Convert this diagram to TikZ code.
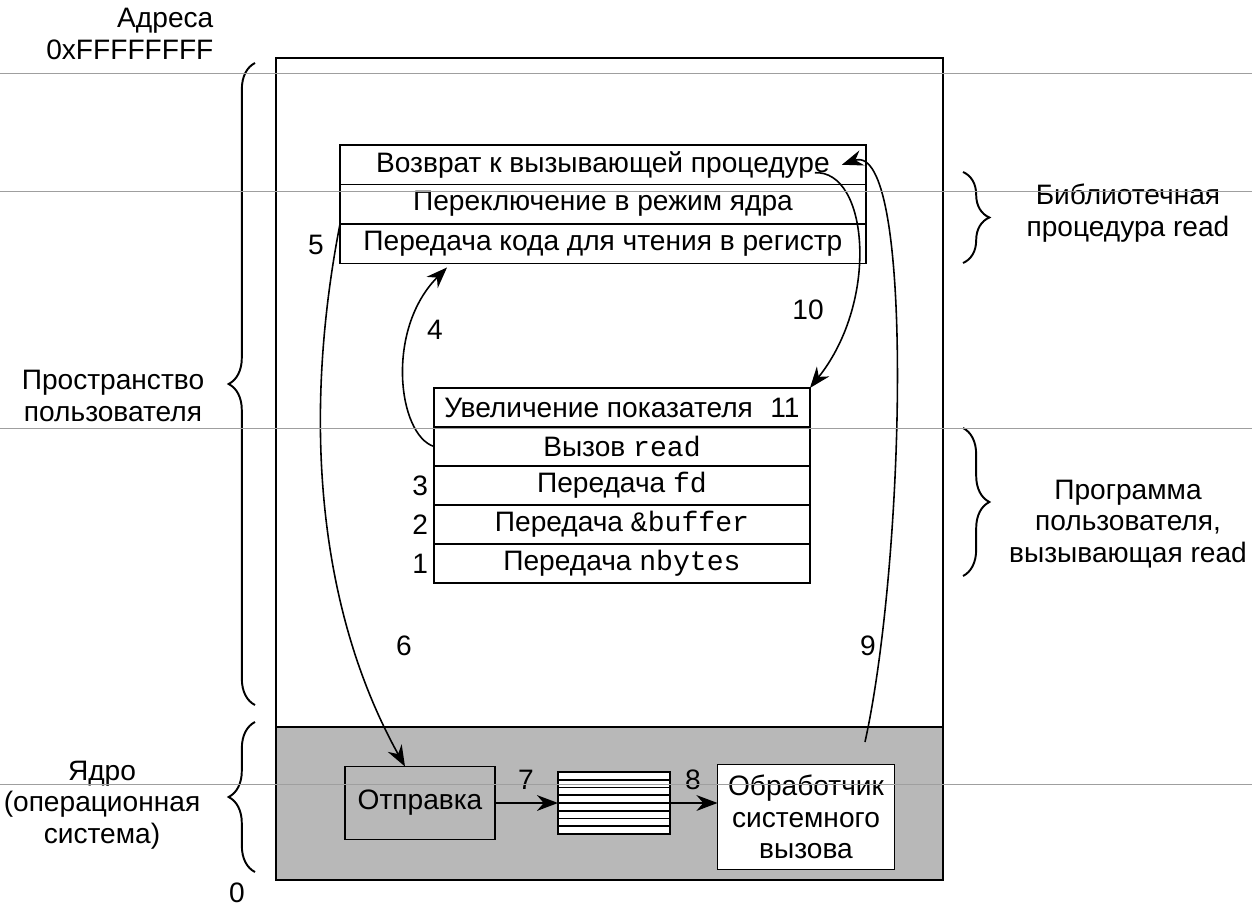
\documentclass[tikz,border=0pt]{standalone}
\usepackage{fontspec}
\setmainfont{Liberation Sans}
\setmonofont{Liberation Mono}
\usetikzlibrary{arrows,arrows.meta,positioning,calc,decorations.pathreplacing}

\begin{document}
\begin{tikzpicture}[->, >={Stealth[length=12pt,width=9pt]}, line width=0.9pt, x=0.02cm, y=-0.02cm, node distance=0pt, font=\fontsize{16}{18}\selectfont]
        \tikzstyle{libbox}=[draw, line width=1.1pt, minimum width=10.52cm, minimum height=0.79cm, inner sep=0pt, outer sep=0pt]
        \tikzstyle{progbox}=[libbox, minimum width=7.52cm, minimum height=0.78cm]
        \tikzstyle{kbox}=[draw, line width=1.1pt, inner sep=0pt, outer sep=0pt, align=center]
        \tikzstyle{numlbl}=[inner sep=1pt]
        \tikzstyle{brc}=[-, line width=1.1pt, decorate, decoration={brace, amplitude=15pt}]
        \tikzstyle{scanline}=[-, gray!75, line width=0.5pt]
        \useasboundingbox (0,0) rectangle (1252,906);

        % address space
        \fill[black!28] (276,727) rectangle (943,880);
        \draw[-, line width=1.3pt] (276,58) rectangle (943,880);
        \draw[-, line width=1.1pt] (276,727) -- (943,727);

        % library procedure read
        \node[libbox, anchor=north west] (ret) at (340,145) {Возврат к вызывающей процедуре};
        \node[libbox, below=of ret]      (trap)  {Переключение в режим ядра};
        \node[libbox, below=of trap]     (code)  {Передача кода для чтения в регистр};

        % user program
        \node[progbox, anchor=north west] (incr) at (434,388) {Увеличение показателя\hspace{0.35cm}11};
        \node[progbox, below=of incr]    (call)  {Вызов \texttt{read}};
        \node[progbox, below=of call]    (pfd)   {Передача \texttt{fd}};
        \node[progbox, below=of pfd]     (pbuf)  {Передача \texttt{\&buffer}};
        \node[progbox, below=of pbuf]    (pnb)   {Передача \texttt{nbytes}};
        \node[numlbl, left=2pt of pfd]   (n3)    {3};
        \node[numlbl, left=2pt of pbuf]  (n2)    {2};
        \node[numlbl, left=2pt of pnb]   (n1)    {1};

        % kernel
        \node[kbox, minimum width=3cm, minimum height=1.46cm]                (disp)  at (420,803) {Отправка};
        \node[kbox, fill=white, minimum width=2.24cm, minimum height=1.24cm] (queue) at (614,803) {};
        \foreach \k in {1,...,7}
            \draw[-] ($(queue.north west)+(0,\k*7.75)$) -- ($(queue.north east)+(0,\k*7.75)$);
        \node[kbox, fill=white, minimum width=3.54cm, minimum height=2.1cm]  (hand)  at (806,817) {Обработчик\\системного\\вызова};
        \coordinate (k9) at (865,742);

        % steps
        \draw (disp.east) -- (disp.east -| queue.west);
        \draw (queue.east) -- (queue.east -| hand.west);
        \draw (call.west) .. controls (398,435) and (385,330) .. ($(code.south west)+(107,4)$);
        \draw (code.north west) .. controls (302,420) and (318,610) .. ([xshift=-0.3cm]disp.north);
        \draw (k9) .. controls (905,560) and (915,140) .. ([xshift=-0.48cm]ret.east);
        \draw ($(ret.east)+(-51,8)$) .. controls (868,170) and (880,300) .. (incr.north east);

        \node (n4)  at (435,330) {4};
        \node (n5)  at (316,245) {5};
        \node (n6)  at (404,646) {6};
        \node (n7)  at (526,780) {7};
        \node (n8)  at (693,780) {8};
        \node (n9)  at (868,646) {9};
        \node (n10) at (808,310) {10};

        % braces
        \draw[brc] (255,705) -- (255,63);
        \draw[brc] (255,872) -- (255,722);
        \draw[brc] (963,172) -- (963,263);
        \draw[brc] (963,428) -- (963,576);

        \node[align=right, anchor=east] (addr) at (220,34) {Адреса\\0xFFFFFFFF};
        \node (zero) at (237,893) {0};
        \node[align=center] (usr) at (113,396) {Пространство\\пользователя};
        \node[align=center] (krn) at (102,805) {Ядро\\(операционная\\система)};
        \node[align=center] (lib) at (1128,213) {Библиотечная\\процедура read};
        \node[align=center] (prg) at (1128,524) {Программа\\пользователя,\\вызывающая read};

        % scan lines
        \foreach \yy in {73,191,428,784}
            \draw[scanline] (0,\yy) -- (1252,\yy);
\end{tikzpicture}
\end{document}
